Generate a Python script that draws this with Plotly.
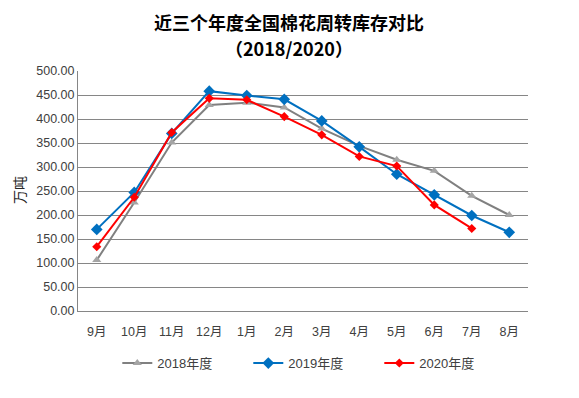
import plotly.graph_objects as go

months = ["9月", "10月", "11月", "12月", "1月", "2月", "3月", "4月", "5月", "6月", "7月", "8月"]
y2018 = [106, 226, 351, 429, 434, 424, 380, 344, 315, 292, 240, 200]
y2019 = [170, 247, 370, 458, 449, 441, 396, 342, 285, 242, 199, 164]
y2020 = [134, 237, 372, 443, 440, 405, 367, 322, 302, 221, 172]
names = ["2018年度", "2019年度", "2020年度"]

FONT = "Liberation Sans, Noto Sans CJK SC, sans-serif"
CJK = "Noto Sans CJK SC, sans-serif"

fig = go.Figure()
fig.add_trace(go.Scatter(x=months, y=y2018, name=names[0], mode="lines+markers",
                         line=dict(color="#808080", width=2),
                         marker=dict(symbol="triangle-up", size=8, color="#A5A5A5")))
fig.add_trace(go.Scatter(x=months, y=y2019, name=names[1], mode="lines+markers",
                         line=dict(color="#0070C0", width=2),
                         marker=dict(symbol="diamond", size=9, color="#0070C0")))
fig.add_trace(go.Scatter(x=months[:len(y2020)], y=y2020, name=names[2], mode="lines+markers",
                         line=dict(color="#FF0000", width=2),
                         marker=dict(symbol="diamond", size=7, color="#FF0000")))

fig.add_annotation(text="<b>近三个年度全国棉花周转库存对比</b>", xref="paper", yref="paper",
                   x=(289 - 78) / 450, y=(311 - 22) / 240, xanchor="center", yanchor="middle",
                   showarrow=False, font=dict(family=CJK, size=18, color="#000000"))
fig.add_annotation(text="<b>（2018/2020）</b>", xref="paper", yref="paper",
                   x=(289 - 78) / 450, y=(311 - 48) / 240, xanchor="center", yanchor="middle",
                   showarrow=False, font=dict(family=CJK, size=18, color="#000000"))
fig.add_annotation(text="万吨", xref="paper", yref="paper",
                   x=(19 - 78) / 450, y=(311 - 190) / 240, xanchor="center", yanchor="middle",
                   textangle=-90, showarrow=False,
                   font=dict(family=CJK, size=14, color="#262626"))

fig.update_layout(
    width=579, height=398,
    paper_bgcolor="white", plot_bgcolor="white",
    margin=dict(l=70, r=59, t=63, b=95, autoexpand=False),
    font=dict(family=FONT, size=12, color="#404040"),
    xaxis=dict(type="category", categoryorder="array", categoryarray=months,
               showgrid=False, showline=True, linecolor="#868686", linewidth=1,
               ticks="outside", ticklen=9, tickcolor="rgba(0,0,0,0)",
               tickfont=dict(size=12.5, color="#404040"), range=[-0.5, 11.5],
               automargin=False),
    yaxis=dict(range=[0, 500], dtick=50, tickformat=".2f",
               showgrid=True, gridcolor="#868686", gridwidth=1,
               showline=True, linecolor="#868686", linewidth=1,
               ticks="", tickfont=dict(size=12.5, color="#404040"),
               zeroline=False, automargin=False),
    legend=dict(orientation="h", x=0.524, xanchor="center", y=-0.217, yanchor="middle",
                font=dict(size=13, color="#404040"), entrywidth=86, itemwidth=30,
                bgcolor="rgba(0,0,0,0)"),
    showlegend=True,
)

fig.write_html("out.html")
